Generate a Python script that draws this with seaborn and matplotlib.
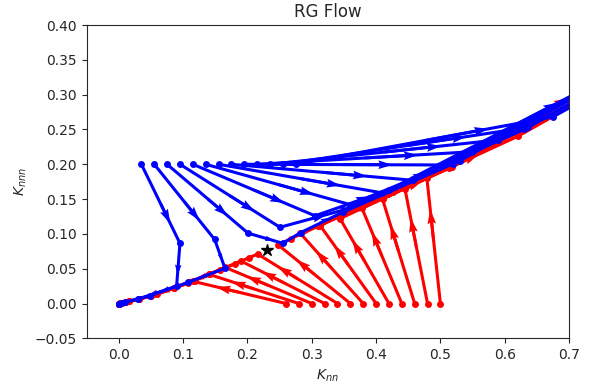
import numpy as np
import matplotlib
matplotlib.use('Agg')
import matplotlib.pyplot as plt
import seaborn as sns

# ─────────────────────────────────────────
# Data (K_nn, K_nnn)
# ─────────────────────────────────────────
# red flows: start on K_nnn = 0
red_knn = [
    [0.26, 0.115, 0.058, 0.015, 0.001, 0.0],
    [0.28, 0.140, 0.085, 0.031, 0.004, 0.0],
    [0.30, 0.165, 0.118, 0.060, 0.016, 0.001, 0.0],
    [0.32, 0.190, 0.157, 0.107, 0.050, 0.011, 0.0],
    [0.34, 0.216, 0.203, 0.180, 0.141, 0.086, 0.032, 0.0045, 0.0],
    [0.36, 0.248, 0.267, 0.310, 0.418, 0.76],
    [0.38, 0.282, 0.345, 0.518, 1.17],
    [0.40, 0.313, 0.426, 0.79],
    [0.42, 0.344, 0.514, 1.15],
    [0.44, 0.378, 0.620, 1.7],
    [0.46, 0.410, 0.730],
    [0.48, 0.445, 0.860],
    [0.50, 0.479, 1.000],
]
red_knnn = [
    [0.0, 0.032, 0.013, 0.003, 0.0002, 0.0],
    [0.0, 0.042, 0.022, 0.006, 0.001, 0.0],
    [0.0, 0.052, 0.033, 0.0135, 0.003, 0.0002, 0.0],
    [0.0, 0.061, 0.048, 0.029, 0.011, 0.002, 0.0],
    [0.0, 0.071, 0.066, 0.057, 0.042, 0.022, 0.006, 0.001, 0.0],
    [0.0, 0.084, 0.093, 0.111, 0.158, 0.32],
    [0.0, 0.101, 0.126, 0.196, 0.55],
    [0.0, 0.112, 0.160, 0.34],
    [0.0, 0.122, 0.195, 0.54],
    [0.0, 0.137, 0.240, 0.80],
    [0.0, 0.150, 0.295],
    [0.0, 0.164, 0.360],
    [0.0, 0.180, 0.430],
]

# blue flows: start on K_nnn = 0.2
blue_knn = [
    [0.035, 0.095, 0.0898, 0.030, 0.004, 0.0],
    [0.055, 0.149, 0.165, 0.108, 0.048, 0.010, 0.0],
    [0.075, 0.201, 0.255, 0.283, 0.348, 0.53, 1.2],
    [0.095, 0.2505, 0.348, 0.52, 1.17],
    [0.115, 0.305, 0.42, 0.77],
    [0.135, 0.360, 0.52, 1.1],
    [0.155, 0.409, 0.63, 1.6],
    [0.175, 0.457, 0.85],
    [0.195, 0.503, 0.95],
    [0.215, 0.549, 1.1],
    [0.235, 0.590, 1.3],
    [0.255, 0.636, 1.5],
    [0.275, 0.675, 1.7],
]
blue_knnn = [
    [0.2, 0.0865, 0.025, 0.0065, 0.0008, 0.0],
    [0.2, 0.092, 0.0506, 0.0305, 0.011, 0.002, 0.0],
    [0.2, 0.101, 0.0865, 0.102, 0.131, 0.205, 0.55],
    [0.2, 0.1095, 0.134, 0.201, 0.54],
    [0.2, 0.126, 0.163, 0.33],
    [0.2, 0.142, 0.203, 0.5],
    [0.2, 0.159, 0.25, 0.75],
    [0.2, 0.177, 0.365],
    [0.2, 0.199, 0.415],
    [0.2, 0.218, 0.5],
    [0.2, 0.235, 0.6],
    [0.2, 0.253, 0.7],
    [0.2, 0.268, 0.8],
]

# critical fixed point
star_knn = [0.23]
star_knnn = [0.077]


def draw_flow(ax, ks, ls, color):
    sns.lineplot(x=ks, y=ls, sort=False, estimator=None, color=color,
                 lw=2.2, marker='o', markersize=5, markeredgewidth=0, ax=ax)
    k = np.asarray(ks)
    l = np.asarray(ls)
    # arrow head sitting at 3/4 of every step
    ax.quiver((k[:-1] + k[1:]) / 2, (l[:-1] + l[1:]) / 2,
              np.diff(k) / 4, np.diff(l) / 4,
              angles='xy', scale_units='xy', scale=1, color=color,
              width=0.006, headwidth=3, headlength=5, headaxislength=4.5)


sns.set_style('ticks')
plt.rcParams['font.family'] = ['DejaVu Sans']

fig = plt.figure(figsize=(5.98, 3.88), dpi=100)
ax = fig.add_axes([0.145, 0.128, 0.8065, 0.8075])

for ks, ls in zip(red_knn, red_knnn):
    draw_flow(ax, ks, ls, 'red')
for ks, ls in zip(blue_knn, blue_knnn):
    draw_flow(ax, ks, ls, 'blue')

ax.plot(star_knn, star_knnn, '*', color='black', markersize=9, zorder=5)

fmt = lambda d: matplotlib.ticker.FuncFormatter(
    lambda v, p: f'{v:.{d}f}'.replace('-', '\u2212'))
ax.set_xlim(-0.05, 0.7)
ax.set_ylim(-0.05, 0.4)
ax.set_xticks(np.arange(0.0, 0.71, 0.1))
ax.set_yticks(np.arange(-0.05, 0.401, 0.05))
ax.xaxis.set_major_formatter(fmt(1))
ax.yaxis.set_major_formatter(fmt(2))
ax.set_title('RG Flow', fontsize=12)
ax.set_xlabel('$K_{nn}$')
ax.set_ylabel('$K_{nnn}$')

fig.savefig('out.png', dpi=100)
